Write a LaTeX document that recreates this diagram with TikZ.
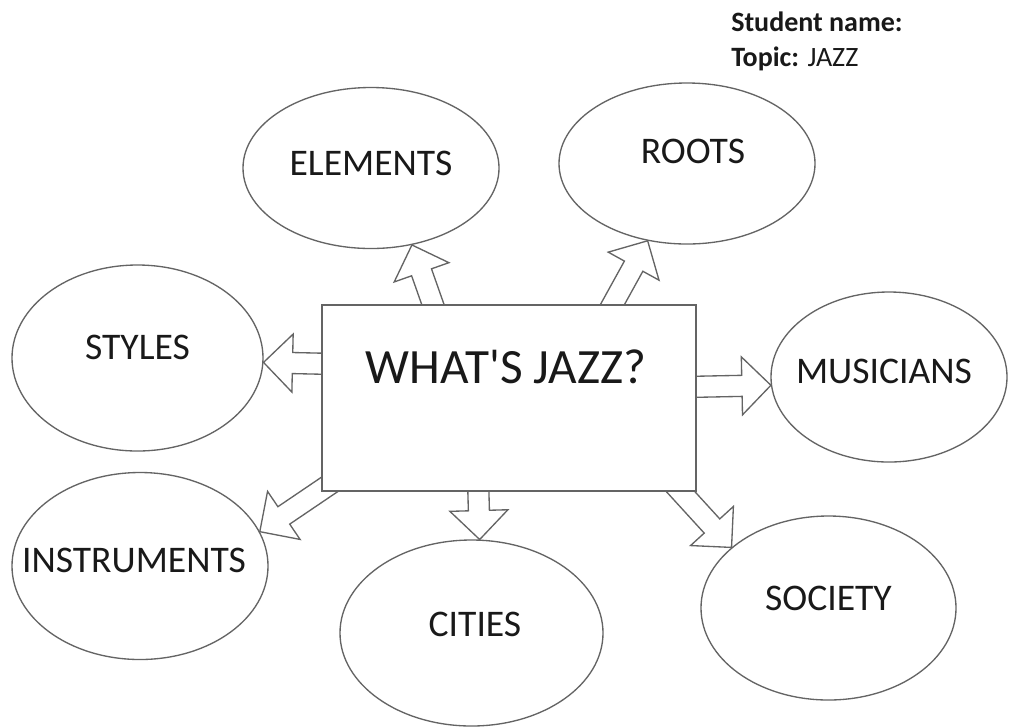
\documentclass[tikz,border=0pt]{standalone}
\usepackage{fontspec}
\setmainfont{Carlito}
\usetikzlibrary{shapes.geometric,calc,backgrounds}
\definecolor{linec}{RGB}{100,100,100}
\definecolor{textc}{RGB}{25,25,25}
\tikzset{
  bubble/.style={ellipse, draw=linec, line width=1pt, fill=white, inner sep=0pt},
  mainbox/.style={rectangle, draw=linec, line width=1pt, fill=white, inner sep=0pt,
    minimum width=280.5pt, minimum height=139.5pt},
  lbl/.style={text=textc, font=\fontsize{28.2pt}{31pt}\selectfont, inner sep=0pt},
  titlelbl/.style={text=textc, font=\fontsize{37pt}{40pt}\selectfont, inner sep=0pt},
  hdr/.style={text=textc, font=\fontsize{21pt}{24pt}\selectfont, inner sep=0pt},
  barrow/.style={draw=linec, line width=1pt, fill=white, line join=miter},
}
\newcommand\blockarrow[2]{%
  \coordinate (bh) at ($(#2)!21.75pt!(#1)$);
  \path[barrow] ($(#1)!7.9pt!90:(#2)$) -- ($(bh)!7.9pt!90:(#2)$)
    -- ($(bh)!21.75pt!90:(#2)$) -- (#2) -- ($(bh)!21.75pt!-90:(#2)$)
    -- ($(bh)!7.9pt!-90:(#2)$) -- ($(#1)!7.9pt!-90:(#2)$) -- cycle;}
\begin{document}
\begin{tikzpicture}[x=0.75pt,y=-0.75pt]
\useasboundingbox (0,0) rectangle (1009,726);

\node[mainbox] (what) at (509,398)
  [label={[titlelbl,xshift=-2.25pt,yshift=23.6pt]center:WHAT\textquotesingle S JAZZ?}] {};

\node[bubble, minimum width=192pt, minimum height=120.75pt] (elements) at (371,168)
  [label={[lbl,yshift=3.4pt]center:ELEMENTS}] {};
\node[bubble, minimum width=192pt, minimum height=120.75pt] (roots) at (687,163.5)
  [label={[lbl,xshift=4.5pt,yshift=9pt]center:ROOTS}] {};
\node[bubble, minimum width=188.25pt, minimum height=139.5pt] (styles) at (137.5,358)
  [label={[lbl,yshift=8.25pt]center:STYLES}] {};
\node[bubble, minimum width=177pt, minimum height=127.5pt] (musicians) at (889,377)
  [label={[lbl,xshift=-3.75pt,yshift=4.5pt]center:MUSICIANS}] {};
\node[bubble, minimum width=192pt, minimum height=140.25pt] (instruments) at (140,566)
  [label={[lbl,xshift=-4.5pt,yshift=4.5pt]center:INSTRUMENTS}] {};
\node[bubble, minimum width=197.25pt, minimum height=139.5pt] (cities) at (471.5,633)
  [label={[lbl,xshift=2.6pt,yshift=6.75pt]center:CITIES}] {};
\node[bubble, minimum width=191.25pt, minimum height=138pt] (society) at (828.5,608)
  [label={[lbl,yshift=7.5pt]center:SOCIETY}] {};

\node[hdr, anchor=base west] (name) at (731,31) {\textbf{Student name:}};
\node[hdr, anchor=base west] (topic) at (731,66) {\textbf{Topic:} JAZZ};

\begin{scope}[on background layer]
  \fill[white] (0,0) rectangle (1009,726);
  \coordinate (sElements) at (438,319);
  \coordinate (sRoots) at (605,318);
  \coordinate (sStyles) at (335,364);
  \coordinate (sMusicians) at (685,387);
  \coordinate (sInstruments) at (342,476);
  \coordinate (sCities) at (478,478);
  \coordinate (sSociety) at (670,480);
  \blockarrow{sElements}{elements.-62}
  \blockarrow{sRoots}{roots.-117.3}
  \blockarrow{sStyles}{styles.-2.7}
  \blockarrow{sMusicians}{musicians.184.8}
  \blockarrow{sInstruments}{instruments.16.4}
  \blockarrow{sCities}{cities.85.9}
  \blockarrow{sSociety}{society.148.8}
\end{scope}
\end{tikzpicture}
\end{document}
